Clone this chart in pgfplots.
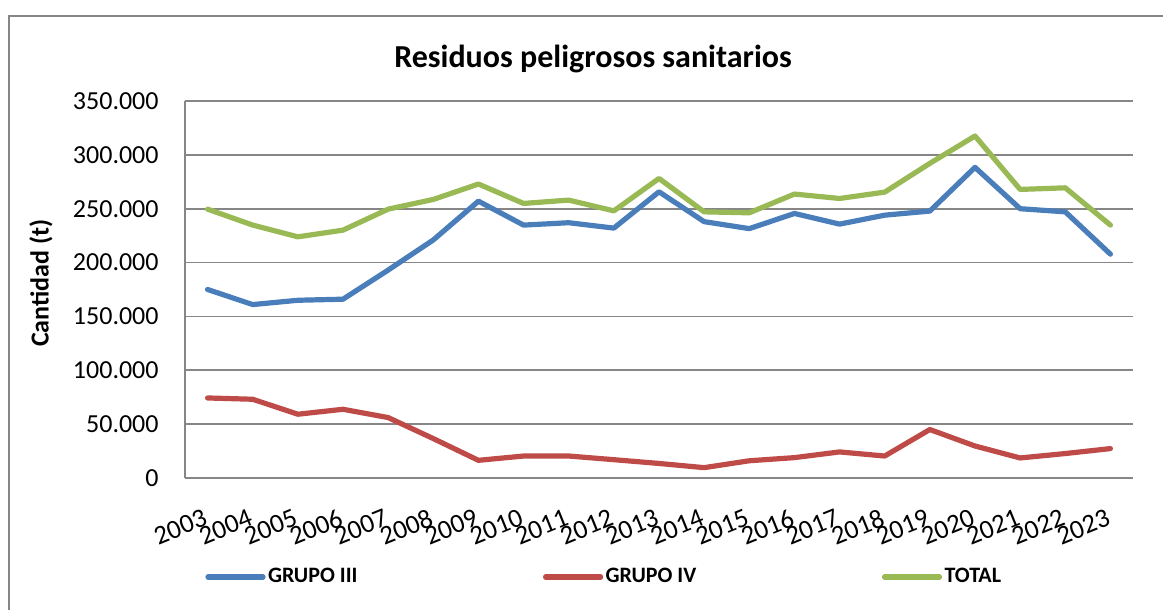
\documentclass[border=0pt]{standalone}
\usepackage{fontspec}
\setmainfont{Carlito}
\usepackage{pgfplots}
\usepackage{pgfplotstable}
\pgfplotsset{compat=1.18}
\definecolor{cblue}{RGB}{74,126,187}
\definecolor{cred}{RGB}{190,75,72}
\definecolor{cgreen}{RGB}{152,185,84}
\definecolor{cgrid}{RGB}{134,134,134}
\pgfplotstableread{
x g3 g4 tot
0 175000 74300 249600
1 161000 73100 234800
2 165000 59200 223900
3 166000 63800 230100
4 193000 56100 249600
5 221000 36600 258600
6 257000 16400 272900
7 234800 20400 254900
8 237000 20400 258000
9 232000 17000 248000
10 265700 13500 278100
11 238000 9600 247100
12 231500 16000 246200
13 245600 18900 263600
14 235700 24200 259500
15 244000 20400 265400
16 247800 45000 292100
17 288400 29700 317500
18 250000 18600 267900
19 247100 22700 269400
20 207800 27300 234800
}\data
\begin{document}
\begin{tikzpicture}[x=1pt,y=1pt]
\useasboundingbox (0,0) rectangle (581.5,305);
\draw[cgrid, line width=1pt] (4.25,0) -- (4.25,297.1) -- (581.5,297.1);
\begin{axis}[
  at={(92.5pt,66pt)}, anchor=south west,
  scale only axis, width=474pt, height=188.5pt,
  xmin=-0.5, xmax=20.5, ymin=0, ymax=350000,
  scaled y ticks=false,
  xtick={0,...,20},
  xticklabels={2003,2004,2005,2006,2007,2008,2009,2010,2011,2012,2013,2014,2015,2016,2017,2018,2019,2020,2021,2022,2023},
  ytick={0,50000,100000,150000,200000,250000,300000,350000},
  yticklabels={0,50.000,100.000,150.000,200.000,250.000,300.000,350.000},
  major tick length=0pt,
  ymajorgrids, grid style={cgrid, line width=0.85pt},
  axis x line*=bottom, axis y line*=left,
  axis line style={cgrid, line width=0.85pt},
  tick label style={font=\fontsize{13}{15}\selectfont, black},
  yticklabel style={anchor=east, inner sep=0pt, xshift=-13pt},
  xticklabel style={font=\fontsize{13.4}{15}\selectfont, rotate=22, anchor=north east, inner sep=0pt, yshift=-13pt, xshift=-8pt},
  title={Residuos peligrosos sanitarios},
  title style={at={(axis description cs:0.4304,1)}, anchor=center, yshift=15pt, font=\bfseries\fontsize{16}{19}\selectfont},
  ylabel={Cantidad (t)},
  ylabel style={at={(axis description cs:-0.1519,0.517)}, anchor=center, font=\bfseries\fontsize{13}{15}\selectfont},
  legend columns=3,
  legend style={at={(axis description cs:0.0211,-0.2626)}, anchor=west, draw=none, fill=none,
    font=\bfseries\fontsize{11}{13}\selectfont, inner sep=0pt, nodes={inner sep=1.25pt},
    /tikz/every even column/.append style={column sep=91.5pt}},
  legend image code/.code={\draw[#1] (0pt,0pt) -- (27.5pt,0pt);},
  every axis plot/.append style={line width=2.6pt, line join=round, line cap=round, mark=none},
]
\addplot[cblue] table[x=x,y=g3] {\data};
\addlegendentry{GRUPO III}
\addplot[cred] table[x=x,y=g4] {\data};
\addlegendentry{GRUPO IV}
\addplot[cgreen] table[x=x,y=tot] {\data};
\addlegendentry{TOTAL}
\end{axis}
\end{tikzpicture}
\end{document}
